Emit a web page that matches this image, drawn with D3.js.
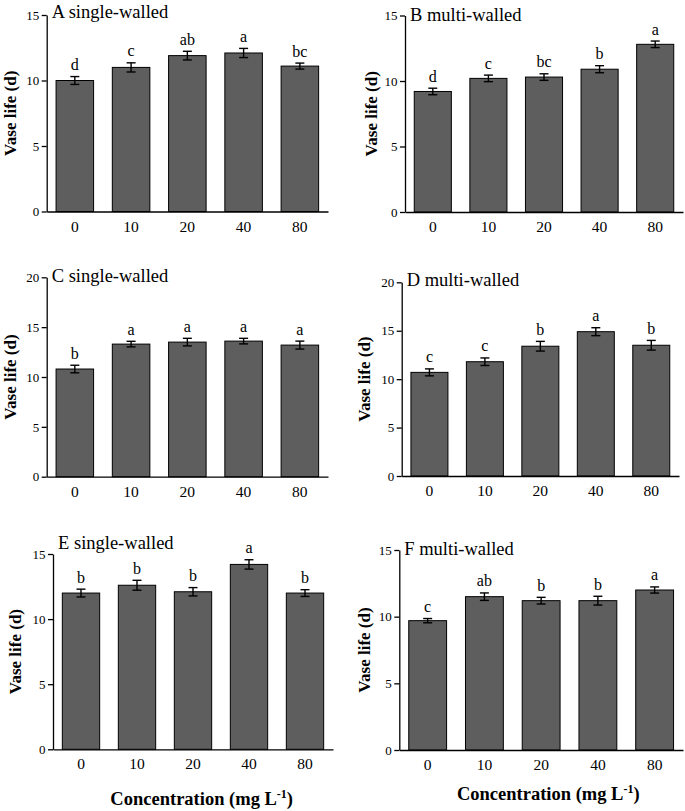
<!DOCTYPE html>
<html>
<head>
<meta charset="utf-8">
<script src="https://cdn.jsdelivr.net/npm/d3@7"></script>
<style>
  body { margin: 0; background: #fff; }
  svg { display: block; }
  text { font-family: "Liberation Serif", "Times New Roman", serif; fill: #000; }
</style>
</head>
<body>
<svg id="chart" width="685" height="811"></svg>
<script>
// ---------- data ----------
const categories = ["0", "10", "20", "40", "80"];
const panelTitles = ["A single-walled", "B multi-walled", "C single-walled", "D multi-walled", "E single-walled", "F multi-walled"];
const yMaxima = [15, 15, 20, 20, 15, 15];
const yTickValues15 = [0, 5, 10, 15];
const yTickValues20 = [0, 5, 10, 15, 20];

const meansA = [10.0, 11.0, 11.9, 12.1, 11.1];
const errorsA = [0.30, 0.35, 0.33, 0.35, 0.23];
const lettersA = ["d", "c", "ab", "a", "bc"];

const meansB = [9.2, 10.2, 10.3, 10.9, 12.8];
const errorsB = [0.25, 0.25, 0.25, 0.27, 0.25];
const lettersB = ["d", "c", "bc", "b", "a"];

const meansC = [10.8, 13.3, 13.5, 13.6, 13.2];
const errorsC = [0.38, 0.28, 0.38, 0.28, 0.40];
const lettersC = ["b", "a", "a", "a", "a"];

const meansD = [10.7, 11.8, 13.4, 14.9, 13.5];
const errorsD = [0.36, 0.39, 0.50, 0.41, 0.50];
const lettersD = ["c", "c", "b", "a", "b"];

const meansE = [12.0, 12.6, 12.1, 14.2, 12.0];
const errorsE = [0.30, 0.38, 0.32, 0.36, 0.26];
const lettersE = ["b", "b", "b", "a", "b"];

const meansF = [9.7, 11.5, 11.2, 11.2, 12.0];
const errorsF = [0.16, 0.28, 0.25, 0.33, 0.23];
const lettersF = ["c", "ab", "b", "b", "a"];

const yAxisTitle = "Vase life (d)";
const xAxisTitle = "Concentration (mg L";
const xAxisTitleSup = "-1";

// ---------- layout (positions only) ----------
const layout = [
  { x0: 46.7, x1: 328, yTop: 15, y0: 211.5, titleDy: 2.5, yLabX: 10 },
  { x0: 405, x1: 683, yTop: 15.5, y0: 212, titleDy: 5, yLabX: 371.5 },
  { x0: 46.7, x1: 328, yTop: 277.3, y0: 476.7, titleDy: 5, yLabX: 10 },
  { x0: 401.7, x1: 679, yTop: 282.3, y0: 476, titleDy: 4, yLabX: 364 },
  { x0: 53, x1: 333, yTop: 554, y0: 749.3, titleDy: -5, yLabX: 15 },
  { x0: 399.3, x1: 683, yTop: 550, y0: 750, titleDy: 5, yLabX: 364 }
];
const xTitlePos = [{ x: 201.7, y: 805 }, { x: 548.3, y: 799.5 }];

const panels = [
  { means: meansA, errors: errorsA, letters: lettersA },
  { means: meansB, errors: errorsB, letters: lettersB },
  { means: meansC, errors: errorsC, letters: lettersC },
  { means: meansD, errors: errorsD, letters: lettersD },
  { means: meansE, errors: errorsE, letters: lettersE },
  { means: meansF, errors: errorsF, letters: lettersF }
];

const svg = d3.select("#chart");
const barFill = "#5e5e5e";

panels.forEach((p, i) => {
  const L = layout[i];
  const g = svg.append("g");
  const x = d3.scaleBand().domain(categories).range([L.x0, L.x1])
    .paddingInner(0.333).paddingOuter(0.1665);
  const y = d3.scaleLinear().domain([0, yMaxima[i]]).range([L.y0, L.yTop]);
  const rows = categories.map((c, k) => ({ c, m: p.means[k], e: p.errors[k], l: p.letters[k] }));

  // bars
  g.selectAll("rect.bar").data(rows).enter().append("rect")
    .attr("class", "bar")
    .attr("x", d => x(d.c))
    .attr("width", x.bandwidth())
    .attr("y", d => y(d.m))
    .attr("height", d => y(0) - y(d.m))
    .attr("fill", barFill)
    .attr("stroke", "#000")
    .attr("stroke-width", 1);

  // error bars
  const eb = g.selectAll("g.err").data(rows).enter().append("g").attr("class", "err")
    .attr("stroke", "#000").attr("stroke-width", 1.4);
  const cx = d => x(d.c) + x.bandwidth() / 2;
  eb.append("line").attr("x1", cx).attr("x2", cx)
    .attr("y1", d => y(d.m - d.e)).attr("y2", d => y(d.m + d.e));
  eb.append("line").attr("x1", d => cx(d) - 4.5).attr("x2", d => cx(d) + 4.5)
    .attr("y1", d => y(d.m + d.e)).attr("y2", d => y(d.m + d.e));
  eb.append("line").attr("x1", d => cx(d) - 4.5).attr("x2", d => cx(d) + 4.5)
    .attr("y1", d => y(d.m - d.e)).attr("y2", d => y(d.m - d.e));

  // significance letters
  g.selectAll("text.sig").data(rows).enter().append("text")
    .attr("class", "sig")
    .attr("x", cx)
    .attr("y", d => y(d.m + d.e) - 6.5)
    .attr("text-anchor", "middle")
    .attr("font-size", 16)
    .text(d => d.l);

  // y axis
  const yAxis = d3.axisLeft(y)
    .tickValues(yMaxima[i] === 20 ? yTickValues20 : yTickValues15)
    .tickSize(5).tickSizeOuter(0).tickPadding(2.5)
    .tickFormat(d3.format("d"));
  const ya = g.append("g").attr("transform", `translate(${L.x0},0)`).call(yAxis);
  ya.select(".domain").attr("stroke-width", 1.3);
  ya.selectAll(".tick line").attr("stroke-width", 1.3);
  ya.selectAll("text").attr("font-size", 13).attr("font-family", "Liberation Serif");

  // x axis
  const xAxis = d3.axisBottom(x).tickSize(0).tickSizeOuter(0).tickPadding(9);
  const xa = g.append("g").attr("transform", `translate(0,${L.y0})`).call(xAxis);
  xa.select(".domain").attr("stroke-width", 1.3);
  xa.selectAll("text").attr("font-size", 15.5).attr("font-family", "Liberation Serif");

  // panel title
  g.append("text")
    .attr("x", L.x0 + 5)
    .attr("y", L.yTop + L.titleDy)
    .attr("font-size", 18.5)
    .text(panelTitles[i]);

  // y axis title
  g.append("text")
    .attr("transform", `translate(${L.yLabX},${(L.y0 + L.yTop) / 2}) rotate(-90)`)
    .attr("text-anchor", "middle")
    .attr("dominant-baseline", "central")
    .attr("font-size", 17)
    .attr("font-weight", "bold")
    .text(yAxisTitle);
});

// x axis titles
xTitlePos.forEach(pos => {
  const t = svg.append("text")
    .attr("x", pos.x).attr("y", pos.y)
    .attr("text-anchor", "middle")
    .attr("font-size", 18.5)
    .attr("font-weight", "bold");
  t.append("tspan").text(xAxisTitle);
  t.append("tspan").attr("font-size", 12).attr("dy", -7).text(xAxisTitleSup);
  t.append("tspan").attr("dy", 7).text(")");
});
</script>
</body>
</html>
